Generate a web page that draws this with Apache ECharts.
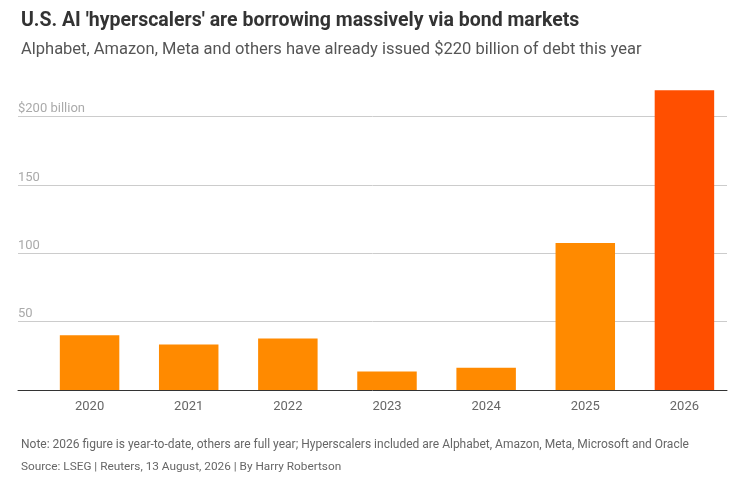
<!DOCTYPE html>
<html>
<head>
<meta charset="utf-8">
<script src="https://cdn.jsdelivr.net/npm/echarts@6/dist/echarts.min.js"></script>
<style>
  html, body { margin: 0; padding: 0; background: #fff; }
  #chart { width: 740px; height: 477px; }
</style>
</head>
<body>
<div id="chart"></div>
<script>
// 数据
const years = ['2020', '2021', '2022', '2023', '2024', '2025', '2026']
const issuance = [40, 33.3, 37.7, 13.6, 16.3, 107.5, 219]
const yMax = 220
const yStep = 50

const FONT = 'Roboto'
const barColor = '#FF8A00'
const lastColor = '#FF4F00'

var myChart = echarts.init(document.getElementById('chart'))

// 两个grid: 0 用于网格线和基线（更宽），1 用于柱子
const option = {
  animation: false,
  textStyle: { fontFamily: FONT },
  title: [
    {
      text: "U.S. AI 'hyperscalers' are borrowing massively via bond markets",
      left: 16, top: 6,
      textStyle: { fontFamily: FONT, fontSize: 19.5, fontWeight: 'bold', color: '#333' }
    },
    {
      text: 'Alphabet, Amazon, Meta and others have already issued $220 billion of debt this year',
      left: 16, top: 36,
      textStyle: { fontFamily: FONT, fontSize: 16.5, fontWeight: 'normal', color: '#555' }
    },
    {
      text: 'Note: 2026 figure is year-to-date, others are full year; Hyperscalers included are Alphabet, Amazon, Meta, Microsoft and Oracle',
      left: 16, top: 434,
      textStyle: { fontFamily: FONT, fontSize: 12, fontWeight: 'normal', color: '#666' }
    },
    {
      text: 'Source: LSEG | Reuters, 13 August, 2026 | By Harry Robertson',
      left: 16, top: 456,
      textStyle: { fontFamily: FONT, fontSize: 11.8, fontWeight: 'normal', color: '#666' }
    }
  ],
  grid: [
    { left: 18, right: 13, top: 89, bottom: 87 },
    { left: 40, right: 6, top: 89, bottom: 87 }
  ],
  xAxis: [
    {
      type: 'category',
      gridIndex: 0,
      data: years,
      axisLine: { show: true, lineStyle: { color: '#333', width: 1 } },
      axisTick: { show: false },
      axisLabel: { show: false }
    },
    {
      type: 'category',
      gridIndex: 1,
      data: years,
      axisLine: { show: false },
      axisTick: { show: false },
      axisLabel: { color: '#666', fontSize: 13, margin: 10, fontFamily: FONT }
    }
  ],
  yAxis: [
    {
      type: 'value',
      gridIndex: 0,
      min: 0,
      max: yMax,
      interval: yStep,
      axisLine: { show: false },
      axisTick: { show: false },
      splitLine: { show: true, showMinLine: false, showMaxLine: false, lineStyle: { color: '#ccc', width: 1 } },
      axisLabel: {
        inside: true,
        margin: 0,
        align: 'left',
        verticalAlign: 'bottom',
        padding: [0, 0, 1, 0],
        color: '#aaa',
        fontSize: 13,
        fontFamily: FONT,
        showMinLabel: false,
        showMaxLabel: false,
        formatter: function (v) {
          if (v === 0) return ''
          if (v === 200) return '$200 billion'
          return v
        }
      }
    },
    {
      type: 'value',
      gridIndex: 1,
      min: 0,
      max: yMax,
      interval: yStep,
      show: false
    }
  ],
  series: [
    {
      type: 'bar',
      xAxisIndex: 1,
      yAxisIndex: 1,
      barWidth: '60%',
      data: issuance.map(function (v, i) {
        return {
          value: v,
          itemStyle: { color: i === issuance.length - 1 ? lastColor : barColor }
        }
      })
    }
  ]
}
myChart.setOption(option)
</script>
</body>
</html>
